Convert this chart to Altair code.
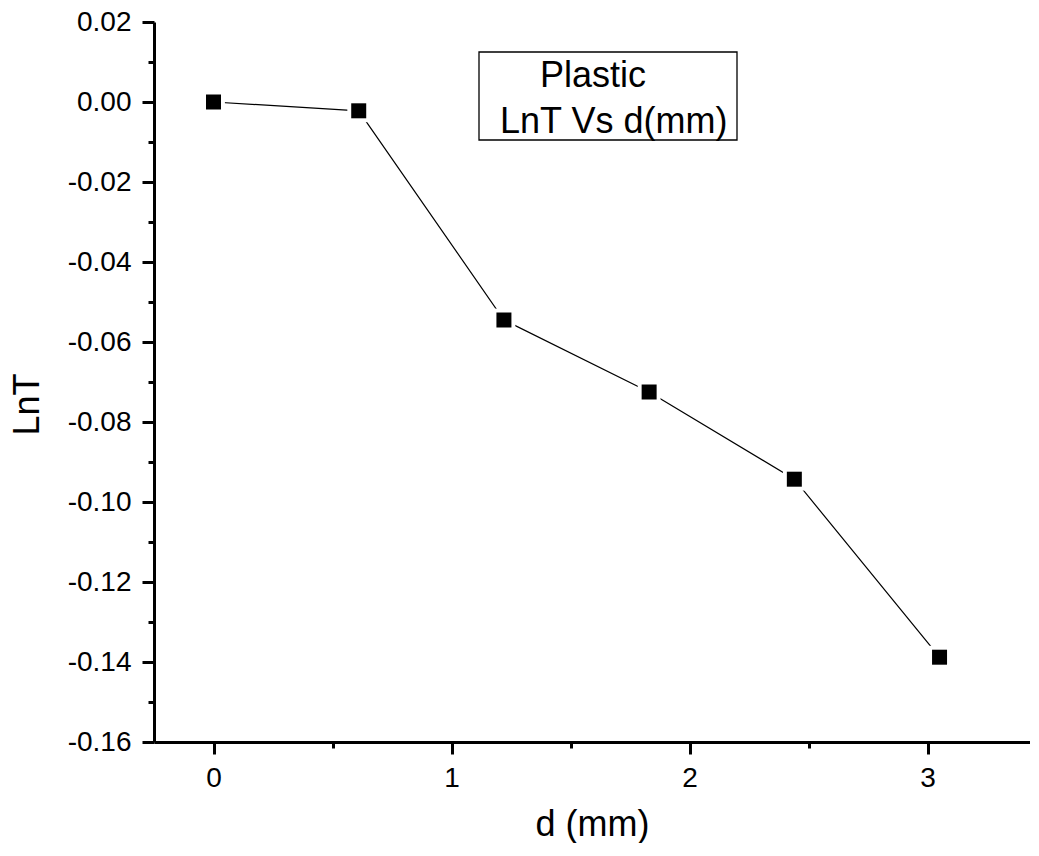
import altair as alt
import pandas as pd

# ---- data ----
d_mm = [0.0, 0.61, 1.22, 1.83, 2.44, 3.05]
lnT = [0.0, -0.0022, -0.0545, -0.0725, -0.0943, -0.1388]

x_major = [0, 1, 2, 3]
x_minor = [0.5, 1.5, 2.5]
y_major = [0.02, 0.0, -0.02, -0.04, -0.06, -0.08, -0.10, -0.12, -0.14, -0.16]
y_minor = [0.01, -0.01, -0.03, -0.05, -0.07, -0.09, -0.11, -0.13, -0.15]

legend_line1 = ["Plastic"]
legend_line2 = ["LnT Vs d(mm)"]

x_title = "d (mm)"
y_title = "LnT"

FONT = "Liberation Sans"

df = pd.DataFrame({"d": d_mm, "lnT": lnT})


def js_list(vals):
    return "[" + ",".join(repr(float(v)) for v in vals) + "]"


x_minor_test = "indexof(%s, datum.value) >= 0" % js_list(x_minor)
y_minor_test = "indexof(%s, datum.value) >= 0" % js_list(y_minor)

x_enc = alt.X(
    "d:Q",
    scale=alt.Scale(domain=[-0.25, 3.43], nice=False, zero=False),
    axis=alt.Axis(
        values=sorted(x_major + x_minor),
        labelExpr=x_minor_test + " ? '' : format(datum.value, '.0f')",
        tickSize={"condition": {"test": x_minor_test, "value": 6}, "value": 12},
        tickWidth=3,
        tickColor="black",
        domainWidth=3,
        domainColor="black",
        labelFont=FONT,
        labelFontSize=28,
        labelColor="black",
        labelPadding=10,
        labelFlush=False,
        labelOverlap=False,
        grid=False,
        title=x_title,
        titleFont=FONT,
        titleFontSize=36,
        titleFontWeight="normal",
        titleColor="black",
        titleBaseline="alphabetic",
        titleY=93,
    ),
)

y_enc = alt.Y(
    "lnT:Q",
    scale=alt.Scale(domain=[-0.16, 0.02], nice=False, zero=False),
    axis=alt.Axis(
        values=sorted(y_major + y_minor),
        labelExpr=y_minor_test
        + " ? '' : ((datum.value < -1e-9 ? '-' : '') + format(abs(datum.value), '.2f'))",
        tickSize={"condition": {"test": y_minor_test, "value": 6}, "value": 12},
        tickWidth=3,
        tickColor="black",
        domainWidth=3,
        domainColor="black",
        labelFont=FONT,
        labelFontSize=28,
        labelColor="black",
        labelPadding=11,
        labelFlush=False,
        labelOverlap=False,
        grid=False,
        title=y_title,
        titleFont=FONT,
        titleFontSize=36,
        titleFontWeight="normal",
        titleColor="black",
        titleAngle=270,
        titleBaseline="middle",
        titleAlign="center",
        titleX=-127,
        titleY=382,
    ),
)

base = alt.Chart(df)

line = base.mark_line(color="black", strokeWidth=1.2).encode(x=x_enc, y=y_enc)
halo = base.mark_square(size=520, color="white", opacity=1, filled=True).encode(x=x_enc, y=y_enc)
pts = base.mark_square(size=225, color="black", opacity=1, filled=True).encode(x=x_enc, y=y_enc)

box = alt.Chart(pd.DataFrame({"k": [0]})).mark_rect(
    fill="white", stroke="black", strokeWidth=1.3
).encode(x=alt.value(325), x2=alt.value(583), y=alt.value(30), y2=alt.value(118))

t1 = alt.Chart(pd.DataFrame({"t": legend_line1})).mark_text(
    font=FONT, fontSize=36, align="left", baseline="alphabetic", color="black"
).encode(x=alt.value(386), y=alt.value(65), text="t:N")

t2 = alt.Chart(pd.DataFrame({"t": legend_line2})).mark_text(
    font=FONT, fontSize=36, align="left", baseline="alphabetic", color="black"
).encode(x=alt.value(346), y=alt.value(111), text="t:N")

chart = (
    alt.layer(box, t1, t2, line, halo, pts)
    .properties(
        width=876,
        height=720,
        autosize=alt.AutoSizeParams(type="none"),
        padding={"left": 146, "top": 14, "right": 0, "bottom": 101},
        background="white",
    )
    .configure_view(stroke=None)
)

chart.save("out.html", embed_options={"renderer": "svg", "actions": False})
